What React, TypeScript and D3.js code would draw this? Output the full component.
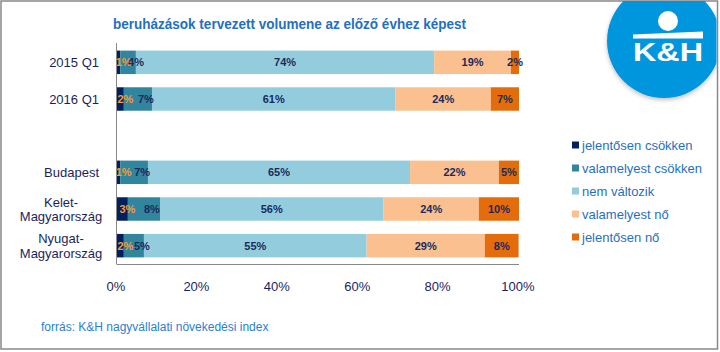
import * as d3 from "d3";

const rowLabels = ["2015 Q1", "2016 Q1", "", "Budapest", "Kelet-Magyarország", "Nyugat-Magyarország"];
const seriesNames = ["jelentősen csökken", "valamelyest csökken", "nem változik", "valamelyest nő", "jelentősen nő"];
const seriesColors = ["#002060", "#31859C", "#93CDDD", "#FAC090", "#E46C0A"];

// shares in %, the empty row is the gap between the two groups
const jelentosenCsokken = [0.8, 1.7, null, 0.8, 2.7, 1.7];
const valamelyestCsokken = [3.9, 7.0, null, 6.9, 8.0, 5.0];
const nemValtozik = [74.2, 60.6, null, 65.2, 55.6, 55.4];
const valamelyestNo = [19.1, 23.7, null, 22.1, 23.7, 29.4];
const jelentosenNo = [2.0, 7.0, null, 5.0, 10.0, 8.4];
const xTicks = [0, 20, 40, 60, 80, 100];

const seriesValues = [jelentosenCsokken, valamelyestCsokken, nemValtozik, valamelyestNo, jelentosenNo];

const W = 720;
const H = 352;
const plot = { left: 117, right: 519, top: 44, bottom: 264 };
const font = "'Liberation Sans', Arial, sans-serif";
const navy = "#1b1f5e";
const blue = "#1f6fc4";

export default function App() {
  const table = rowLabels.map((label, i) => {
    const row: any = { label };
    seriesNames.forEach((s, j) => (row[s] = seriesValues[j][i] ?? 0));
    return row;
  });
  const stacked = d3.stack<any>().keys(seriesNames)(table);

  const x = d3.scaleLinear().domain([0, 100]).range([plot.left, plot.right]);
  const y = d3
    .scaleBand()
    .domain(rowLabels.map((_, i) => String(i)))
    .range([plot.top, plot.bottom])
    .paddingInner(0.36)
    .paddingOuter(0.18);

  // small first segments: Excel pushed their labels a little to the right
  const labelDx = [5, 8, 0, 0, 0];

  const segments = stacked.flatMap((layer, si) =>
    layer
      .map((d, ri) => ({ si, ri, v: seriesValues[si][ri], x0: x(d[0]), x1: x(d[1]), yy: y(String(ri))! }))
      .filter((s) => s.v != null)
  );

  return (
    <div style={{ position: "absolute", left: 0, top: 0 }}>
      <svg width={W} height={H} style={{ display: "block", fontFamily: font }}>
        <defs>
          <clipPath id="frame">
            <rect x={0} y={1} width={716.5} height={H} />
          </clipPath>
          <filter id="sh" x="-20%" y="-20%" width="140%" height="140%">
            <feDropShadow dx="0" dy="2" stdDeviation="2" floodColor="#000" floodOpacity="0.25" />
          </filter>
        </defs>
        <rect x={1} y={1} width={716.5} height={348} fill="#fff" stroke="#888" strokeWidth={1.5} />

        {/* logo */}
        <g clipPath="url(#frame)">
          <circle cx={664} cy={41} r={57} fill="#0096DE" filter="url(#sh)" />
          <circle cx={668} cy={21} r={10} fill="#fff" />
          <polygon points="633,34.5 703,31.5 703,38.5 633,38.5" fill="#fff" />
          <text x={633} y={61} fill="#fff" fontWeight="bold" fontSize={25} textLength={70} lengthAdjust="spacingAndGlyphs">
            K&amp;H
          </text>
        </g>

        <text x={113} y={29} fill={blue} fontWeight="bold" fontSize={15} textLength={353} lengthAdjust="spacingAndGlyphs">
          beruházások tervezett volumene az előző évhez képest
        </text>

        {segments.map((s) => (
          <rect
            key={`r${s.si}-${s.ri}`}
            x={s.x0}
            y={s.yy}
            width={s.x1 - s.x0}
            height={y.bandwidth()}
            fill={seriesColors[s.si]}
          />
        ))}
        {segments.map((s) => (
          <text
            key={`t${s.si}-${s.ri}`}
            x={(s.x0 + s.x1) / 2 + labelDx[s.si]}
            y={s.yy + y.bandwidth() / 2}
            dy="0.35em"
            textAnchor="middle"
            fontSize={11}
            fontWeight="bold"
            fill={s.si === 0 ? "#F59A3C" : "#1b2a5c"}
          >
            {Math.round(s.v as number)}%
          </text>
        ))}

        {/* axes */}
        <line x1={plot.left - 0.5} x2={plot.left - 0.5} y1={plot.top - 1} y2={plot.bottom} stroke="#888" />
        <line x1={plot.left - 0.5} x2={plot.right} y1={plot.bottom + 0.5} y2={plot.bottom + 0.5} stroke="#888" />

        {xTicks.map((t) => (
          <text key={t} x={x(t) - 1} y={291} textAnchor="middle" fontSize={13} fill={navy}>
            {t}%
          </text>
        ))}

        {rowLabels.map((label, i) => {
          if (!label) return null;
          const cy = y(String(i))! + y.bandwidth() / 2;
          const cut = label.indexOf("-");
          if (cut < 0)
            return (
              <text key={i} x={99} y={cy} dy="0.35em" textAnchor="end" fontSize={13} fill={navy}>
                {label}
              </text>
            );
          const parts = [label.slice(0, cut + 1), label.slice(cut + 1)];
          return (
            <text key={i} x={61} y={cy - 7} textAnchor="middle" fontSize={13} fill={navy}>
              {parts.map((p, k) => (
                <tspan key={k} x={61} dy={k === 0 ? "0.35em" : 14.5}>
                  {p}
                </tspan>
              ))}
            </text>
          );
        })}

        {/* legend */}
        {seriesNames.map((s, i) => (
          <g key={s} transform={`translate(572,${145 + i * 23})`}>
            <rect x={0} y={-3.5} width={7} height={7} fill={seriesColors[i]} />
            <text x={10} y={0} dy="0.35em" fontSize={13} fill={blue}>
              {s}
            </text>
          </g>
        ))}

        <text x={41} y={331} fontSize={12} fill="#2a7fd4">
          forrás: K&amp;H nagyvállalati növekedési index
        </text>
      </svg>
    </div>
  );
}
